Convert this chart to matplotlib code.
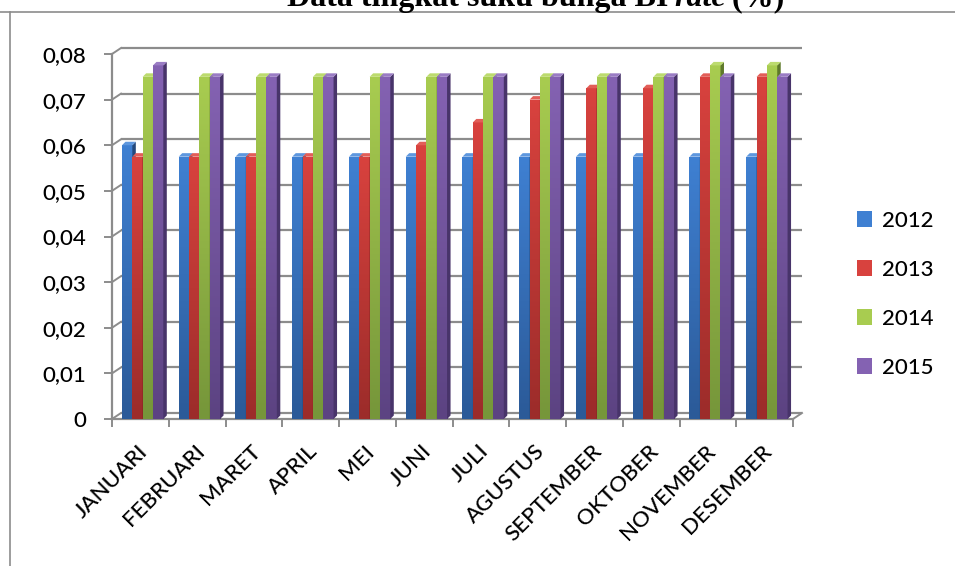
import matplotlib
matplotlib.use("Agg")
import matplotlib.pyplot as plt
from matplotlib.colors import LinearSegmentedColormap
from matplotlib.patches import Polygon, Patch
from matplotlib.transforms import ScaledTranslation
from matplotlib.lines import Line2D
import numpy as np

# BI rate per month (fraction), one list per year
months = ["JANUARI", "FEBRUARI", "MARET", "APRIL", "MEI", "JUNI", "JULI",
          "AGUSTUS", "SEPTEMBER", "OKTOBER", "NOVEMBER", "DESEMBER"]
years = ["2012", "2013", "2014", "2015"]
rate_2012 = [0.06, 0.0575, 0.0575, 0.0575, 0.0575, 0.0575, 0.0575, 0.0575, 0.0575, 0.0575, 0.0575, 0.0575]
rate_2013 = [0.0575, 0.0575, 0.0575, 0.0575, 0.0575, 0.06, 0.065, 0.07, 0.0725, 0.0725, 0.075, 0.075]
rate_2014 = [0.075, 0.075, 0.075, 0.075, 0.075, 0.075, 0.075, 0.075, 0.075, 0.075, 0.0775, 0.0775]
rate_2015 = [0.0775, 0.075, 0.075, 0.075, 0.075, 0.075, 0.075, 0.075, 0.075, 0.075, 0.075, 0.075]
y_ticks = [0, 0.01, 0.02, 0.03, 0.04, 0.05, 0.06, 0.07, 0.08]
y_labels = ["0", "0,01", "0,02", "0,03", "0,04", "0,05", "0,06", "0,07", "0,08"]

series = [rate_2012, rate_2013, rate_2014, rate_2015]
# (top of front face, bottom of front face, side face, top face)
shades = [
    ("#3f80d2", "#2b5a98", "#24497c", "#5e97de"),
    ("#d8423e", "#9c2c2a", "#7c2220", "#e25e58"),
    ("#a8cc50", "#76963a", "#5e792b", "#bcdb6e"),
    ("#8462b2", "#5c4382", "#48346a", "#9a7cc4"),
]
grid_col = "#8c8c8c"
font = "Lato"

fig = plt.figure(figsize=(9.55, 5.66), dpi=100)
W, H = 955, 566
ax = fig.add_axes([112 / W, (H - 419) / H, (793 - 112) / W, (419 - 54) / H])
ax.set_xlim(0, 12)
ax.set_ylim(0, 0.08)

# depth of the back wall and of each column, in data units
wall_dx, wall_dy = 9 / 56.75, 6 / 4562
bar_dx, bar_dy = 3.5 / 56.75, 3.5 / 4562
bar_w, bar_off = 0.182, 0.176

# back wall gridlines and the side-wall diagonals
for v in y_ticks:
    ax.plot([wall_dx, 12 + wall_dx], [v + wall_dy] * 2, color=grid_col, lw=1.6,
            clip_on=False, zorder=1, solid_capstyle="butt")
    ax.plot([0, wall_dx], [v, v + wall_dy], color=grid_col, lw=1.4, clip_on=False, zorder=1)
ax.plot([12, 12 + wall_dx], [0, wall_dy], color=grid_col, lw=1.4, clip_on=False, zorder=1)

x = np.arange(len(months))
grad = np.linspace(0, 1, 64).reshape(-1, 1)
for k, (vals, (c_top, c_bot, c_side, c_cap)) in enumerate(zip(series, shades)):
    cmap = LinearSegmentedColormap.from_list("g%d" % k, [c_bot, c_top])
    bars = ax.bar(x + bar_off + k * bar_w, vals, width=bar_w, align="edge",
                  color=c_top, zorder=2 + k)
    for b in bars:
        x0, w, v = b.get_x(), b.get_width(), b.get_height()
        z = 2 + k + b.get_x() * 0.001
        im = ax.imshow(grad, extent=[x0, x0 + w, 0, v], origin="lower", cmap=cmap,
                       aspect="auto", zorder=z, interpolation="bilinear")
        im.set_clip_path(b)
        ax.add_patch(Polygon([(x0 + w, 0), (x0 + w + bar_dx, bar_dy), (x0 + w + bar_dx, v + bar_dy),
                              (x0 + w, v)], closed=True, facecolor=c_side, edgecolor="none",
                             zorder=z, clip_on=False))
        ax.add_patch(Polygon([(x0, v), (x0 + bar_dx, v + bar_dy), (x0 + w + bar_dx, v + bar_dy),
                              (x0 + w, v)], closed=True, facecolor=c_cap, edgecolor="none",
                             zorder=z, clip_on=False))
ax.set_xlim(0, 12)
ax.set_ylim(0, 0.08)

for s in ["top", "right"]:
    ax.spines[s].set_visible(False)
for s in ["left", "bottom"]:
    ax.spines[s].set_color(grid_col)
    ax.spines[s].set_linewidth(1.6)
    ax.spines[s].set_zorder(1.5)

ax.set_yticks(y_ticks)
ax.set_yticklabels(y_labels, fontfamily=font, fontsize=16, fontweight="medium")
ax.tick_params(axis="y", direction="out", length=5.8, width=1.4, color=grid_col, pad=13)

ax.set_xticks(x + 0.5)
ax.set_xticklabels(months, fontfamily=font, fontsize=16, fontweight="medium", rotation=45,
                   ha="right", va="top", rotation_mode="anchor")
ax.set_xticks(np.arange(13), minor=True)
ax.tick_params(axis="x", which="major", length=0, pad=16)
ax.tick_params(axis="x", which="minor", direction="out", length=5.8, width=1.4, color=grid_col)
shift = ScaledTranslation(-0.03, 0, fig.dpi_scale_trans)
for lab in ax.get_xticklabels():
    lab.set_transform(lab.get_transform() + shift)

handles = [Patch(facecolor=s[0], edgecolor="none") for s in shades]
ax.legend(handles, years, loc="upper left", bbox_to_anchor=(848 / W, 1 - 202 / H),
          bbox_transform=fig.transFigure, frameon=False,
          prop={"family": font, "size": 16, "weight": "medium"},
          handlelength=0.7, handleheight=0.7, handletextpad=0.45, labelspacing=1.3,
          borderaxespad=0)

# outer chart frame (top and left edges)
fig.add_artist(Line2D([0, 1], [1 - 12 / H] * 2, transform=fig.transFigure, color=grid_col, lw=1.2))
fig.add_artist(Line2D([10 / W] * 2, [0, 1 - 12 / H], transform=fig.transFigure, color=grid_col, lw=1.2))

# title, partly cut off at the top edge
renderer = fig.canvas.get_renderer()
yb = 1 - 6 / H
t1 = fig.text(287 / W, yb, "Data tingkat suku bunga BI", fontfamily="Liberation Serif",
              fontweight="bold", fontsize=23, va="baseline")
x1 = t1.get_window_extent(renderer).x1 + 6
t2 = fig.text(x1 / W, yb, "rate", fontfamily="Liberation Serif", fontweight="bold",
              fontstyle="italic", fontsize=23, va="baseline")
x2 = t2.get_window_extent(renderer).x1 + 6
fig.text(x2 / W, yb, "(%)", fontfamily="Liberation Serif", fontweight="bold",
         fontsize=23, va="baseline")

fig.savefig("out.png", dpi=100)
